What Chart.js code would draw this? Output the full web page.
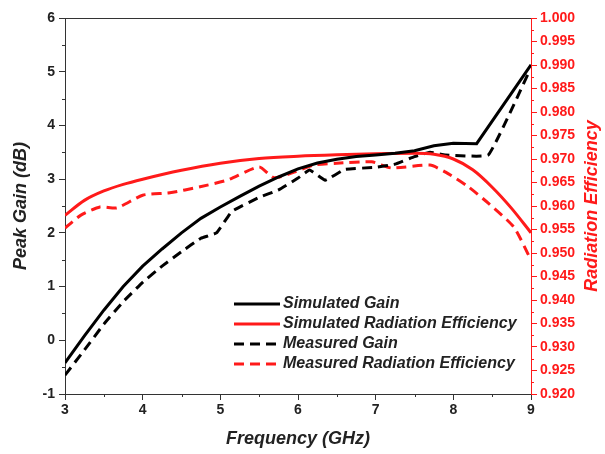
<!DOCTYPE html>
<html>
<head>
<meta charset="utf-8">
<script src="https://cdn.jsdelivr.net/npm/chart.js@4"></script>
<style>
  html, body { margin: 0; padding: 0; background: #fff; }
  #wrap { width: 605px; height: 454px; }
</style>
</head>
<body>
<div id="wrap"><canvas id="gainChart"></canvas></div>
<script>
// Dados
const simGainFreq = [3, 3.25, 3.5, 3.75, 4, 4.25, 4.5, 4.75, 5, 5.25, 5.5, 5.75, 6, 6.25, 6.5, 6.75, 7, 7.25, 7.5, 7.75, 8, 8.3, 9];
const simGain = [-0.42, 0.08, 0.56, 1.0, 1.38, 1.7, 2.0, 2.27, 2.48, 2.68, 2.87, 3.04, 3.19, 3.3, 3.37, 3.42, 3.45, 3.48, 3.53, 3.62, 3.67, 3.66, 5.13];

const measGainFreq = [3, 3.25, 3.5, 3.75, 4, 4.25, 4.5, 4.75, 4.95, 5.15, 5.5, 5.75, 6, 6.15, 6.35, 6.6, 7, 7.25, 7.5, 7.7, 7.9, 8.45, 8.96];
const measGain = [-0.65, -0.18, 0.3, 0.72, 1.08, 1.38, 1.65, 1.9, 2.0, 2.4, 2.66, 2.8, 3.02, 3.17, 2.98, 3.18, 3.22, 3.28, 3.42, 3.5, 3.45, 3.45, 4.95];

const simEffFreq = [3, 3.25, 3.5, 3.75, 4, 4.5, 5, 5.5, 6, 6.5, 7, 7.5, 7.75, 8, 8.25, 8.5, 8.75, 9];
const simEff = [0.958, 0.9612, 0.9632, 0.9646, 0.9657, 0.9676, 0.9691, 0.9701, 0.9706, 0.9709, 0.9711, 0.9712, 0.971, 0.97, 0.9677, 0.964, 0.9595, 0.9543];

const measEffFreq = [3, 3.2, 3.45, 3.67, 4, 4.35, 4.74, 5.09, 5.5, 5.69, 5.95, 6.2, 6.5, 6.95, 7.2, 7.7, 7.9, 8.2, 8.45, 8.78, 9];
const measEff = [0.9553, 0.958, 0.9598, 0.9596, 0.9623, 0.9628, 0.9641, 0.9655, 0.9683, 0.966, 0.9672, 0.9687, 0.9691, 0.9694, 0.9681, 0.9687, 0.9672, 0.964, 0.9606, 0.9555, 0.9485];

const pts = (xs, ys) => xs.map((x, i) => ({ x: x, y: ys[i] }));

const RED = '#ff1a1a';
const FONT = '"Liberation Sans", Arial, sans-serif';

// ticks menores + moldura superior + título do eixo direito + legenda
const extras = {
    id: 'extras',
    afterDraw(chart) {
        const c = chart.ctx;
        const a = chart.chartArea;
        const sx = chart.scales.x, sy = chart.scales.y, se = chart.scales.y2;
        c.save();
        c.lineWidth = 1;
        // topo
        c.strokeStyle = '#333';
        c.beginPath(); c.moveTo(a.left, a.top + 0.5); c.lineTo(a.right, a.top + 0.5); c.stroke();
        // ticks menores x
        for (let v = 3.5; v < 9; v += 1) {
            const p = Math.round(sx.getPixelForValue(v)) + 0.5;
            c.beginPath(); c.moveTo(p, a.bottom); c.lineTo(p, a.bottom + 3); c.stroke();
        }
        // ticks menores y
        for (let v = -0.5; v < 6; v += 1) {
            const p = Math.round(sy.getPixelForValue(v)) + 0.5;
            c.beginPath(); c.moveTo(a.left, p); c.lineTo(a.left - 3, p); c.stroke();
        }
        // ticks menores y2
        c.strokeStyle = RED;
        for (let v = 0.9225; v < 1; v += 0.005) {
            const p = Math.round(se.getPixelForValue(v)) + 0.5;
            c.beginPath(); c.moveTo(a.right, p); c.lineTo(a.right + 3, p); c.stroke();
        }
        // título direito (de baixo para cima)
        c.fillStyle = RED;
        c.font = 'italic bold 18px ' + FONT;
        c.textAlign = 'center';
        c.textBaseline = 'middle';
        c.translate(592, (a.top + a.bottom) / 2);
        c.rotate(-Math.PI / 2);
        c.fillText('Radiation Efficiency', 0, 0);
        c.restore();

        // legenda dentro do gráfico
        c.save();
        c.font = 'italic bold 16px ' + FONT;
        c.textBaseline = 'middle';
        chart.data.datasets.forEach((ds, i) => {
            const y = 304 + i * 20;
            c.strokeStyle = ds.borderColor;
            c.lineWidth = 3;
            c.setLineDash(ds.borderDash || []);
            c.beginPath(); c.moveTo(234, y); c.lineTo(280, y); c.stroke();
            c.setLineDash([]);
            c.fillStyle = '#222';
            c.fillText(ds.label, 283, y);
        });
        c.restore();
    }
};

const ctx = document.getElementById('gainChart').getContext('2d');
new Chart(ctx, {
    type: 'line',
    data: {
        datasets: [{
            label: 'Simulated Gain',
            data: pts(simGainFreq, simGain),
            borderColor: '#000',
            borderWidth: 3,
            pointRadius: 0,
            tension: 0,
            yAxisID: 'y'
        }, {
            label: 'Simulated Radiation Efficiency',
            data: pts(simEffFreq, simEff),
            borderColor: RED,
            borderWidth: 3,
            pointRadius: 0,
            cubicInterpolationMode: 'monotone',
            yAxisID: 'y2'
        }, {
            label: 'Measured Gain',
            data: pts(measGainFreq, measGain),
            borderColor: '#000',
            borderWidth: 3,
            borderDash: [10, 6],
            pointRadius: 0,
            tension: 0.1,
            yAxisID: 'y'
        }, {
            label: 'Measured Radiation Efficiency',
            data: pts(measEffFreq, measEff),
            borderColor: RED,
            borderWidth: 3,
            borderDash: [10, 6],
            pointRadius: 0,
            tension: 0.2,
            yAxisID: 'y2'
        }]
    },
    options: {
        responsive: true,
        maintainAspectRatio: false,
        animation: false,
        layout: { padding: { top: 18, left: 0, right: 0, bottom: 0 } },
        scales: {
            x: {
                type: 'linear',
                min: 3, max: 9,
                grid: { drawOnChartArea: false, tickLength: 6, color: '#333' },
                border: { color: '#333', width: 1 },
                ticks: { stepSize: 1, color: '#222', padding: 2, font: { family: FONT, size: 14, weight: 'bold' } },
                title: { display: true, text: 'Frequency (GHz)', color: '#222', padding: { top: 8 }, font: { family: FONT, size: 18, weight: 'bold', style: 'italic' } },
                afterFit: s => { s.height = 60; }
            },
            y: {
                position: 'left',
                min: -1, max: 6,
                grid: { drawOnChartArea: false, tickLength: 6, color: '#333' },
                border: { color: '#333', width: 1 },
                ticks: { stepSize: 1, color: '#222', padding: 4, font: { family: FONT, size: 14, weight: 'bold' } },
                title: { display: true, text: 'Peak Gain (dB)', color: '#222', padding: { bottom: 0, top: 10 }, font: { family: FONT, size: 18, weight: 'bold', style: 'italic' } },
                afterFit: s => { s.width = 65; }
            },
            y2: {
                position: 'right',
                min: 0.92, max: 1.0,
                grid: { drawOnChartArea: false, tickLength: 6, color: RED },
                border: { color: RED, width: 1 },
                ticks: {
                    stepSize: 0.005, color: RED, padding: 3,
                    font: { family: FONT, size: 14, weight: 'bold' },
                    callback: v => v.toFixed(3)
                },
                afterFit: s => { s.width = 74; }
            }
        },
        plugins: {
            legend: { display: false },
            tooltip: { enabled: false }
        }
    },
    plugins: [extras]
});
</script>
</body>
</html>
